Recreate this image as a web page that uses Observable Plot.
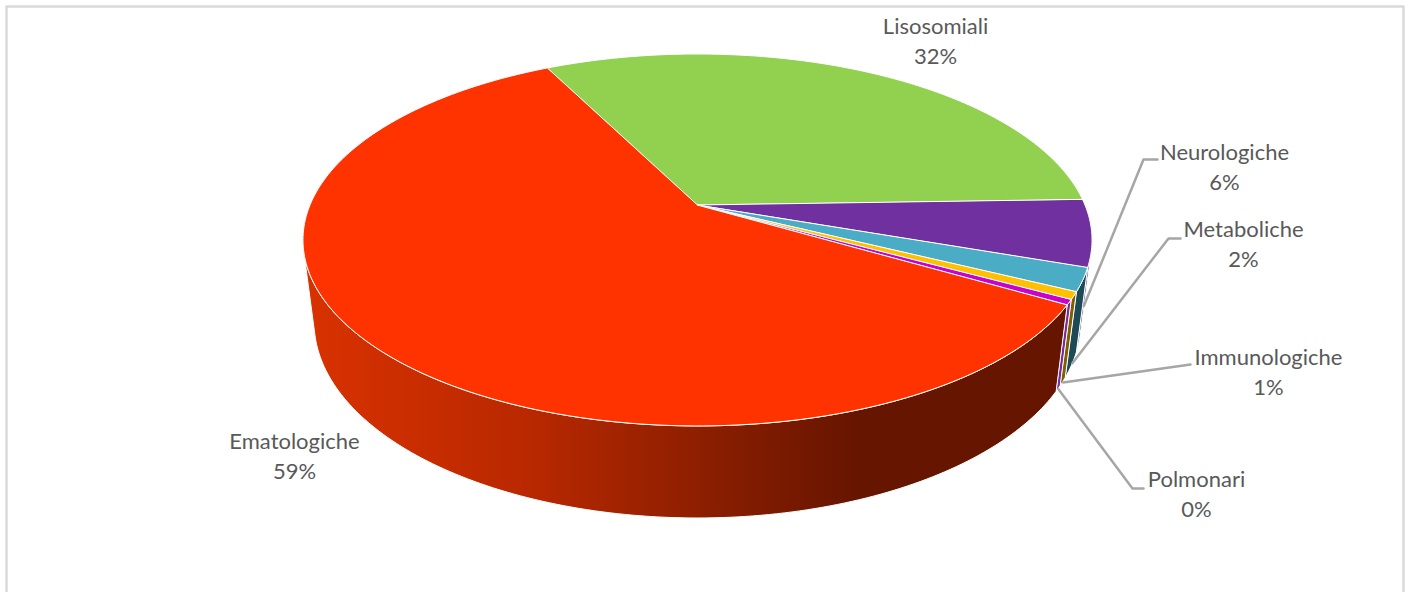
<!DOCTYPE html>
<html>
<head>
<meta charset="utf-8">
<script src="https://cdn.jsdelivr.net/npm/d3@7"></script>
<script src="https://cdn.jsdelivr.net/npm/@observablehq/plot@0.6"></script>
<style>
  html, body { margin: 0; padding: 0; background: #fff; overflow: hidden; }
  svg { display: block; }
</style>
</head>
<body>
<div id="chart"></div>
<script>
// Share of each disease group, in percent, clockwise from the first slice
const categories = ["Lisosomiali", "Neurologiche", "Metaboliche", "Immunologiche", "Polmonari", "Ematologiche"];
const shares = [32.0, 5.8, 2.0, 0.65, 0.45, 59.1];
const printed = [32, 6, 2, 1, 0, 59];
const topColors = ["#92d050", "#7030a0", "#4bacc6", "#ffc000", "#cc00cc", "#ff3300"];
const sideColors = ["#3a5320", "#4a2070", "#1e4a58", "#7f6000", "#7a2a9a", "url(#redWall)"];

// Where each caption sits, and the elbow of its leader line
const captionX = [935, 1224, 1243, 1268, 1196, 294];
const captionY = [39, 165, 242, 370, 492, 454];
const elbowA = [null, [1143, 159], [1168, 238], [1183, 365], [1132, 488], null];
const elbowB = [null, [1157, 159], [1180, 238], [1190, 364], [1143, 488], null];
const leaderDepth = [null, 0.5, 0.97, 1, 1, null];

// Shading of the long wall, running left to right
const wallStops = [[0, "#d93200"], [0.3, "#b82800"], [0.51, "#8f1f00"], [0.727, "#661500"], [1, "#661500"]];

// Perspective view of a disc with a wall below it
const view = {cx: 697.5, cy: 205, B: 387.5, A: 179.4, C: -83.5, k: 0.188, m: 0.028, startDeg: -26.9};
function project(deg, depth) {
  const t = deg * Math.PI / 180, u = Math.sin(t), v = Math.cos(t);
  const w = 1 + view.k * v + view.m * depth;
  return [view.cx + view.B * u / w, view.cy - (view.A * v + view.C * depth) / w];
}
const centre = [view.cx, view.cy];

// Angular extent of the slices, from the shares
const total = d3.sum(shares);
let running = view.startDeg;
const slices = categories.map((name, i) => {
  const from = running;
  running += shares[i] / total * 360;
  return {name, i, from, to: running, mid: (from + running) / 2};
});

function steps(a, b) {
  const n = Math.max(2, Math.ceil(Math.abs(b - a)));
  return d3.range(n + 1).map(j => a + (b - a) * j / n);
}

// Top face: each slice is a fan from the centre to its arc
const topRows = slices.flatMap(s => steps(s.from, s.to).map(deg => {
  const [x, y] = project(deg, 0);
  return {x1: centre[0], y1: centre[1], x2: x, y2: y, name: s.name, fill: topColors[s.i]};
}));

// Walls: only the part of the rim turned toward the viewer
const rimFrom = 104.3, rimTo = 255.7;
const wallRows = slices.flatMap(s => {
  let a = s.from, b = s.to;
  if (b < 0) { a += 360; b += 360; }
  a = Math.max(a, rimFrom); b = Math.min(b, rimTo);
  if (a >= b) return [];
  return steps(a, b).map(deg => {
    const [x1, y1] = project(deg, 0), [x2, y2] = project(deg, 1);
    return {x1, y1, x2, y2, name: s.name, fill: sideColors[s.i]};
  });
});

// Leader lines run from a slice's wall out to its caption
const leaderRows = slices.flatMap(s => {
  if (!elbowA[s.i]) return [];
  const deg = s.i === 1 ? s.to - 1.5 : s.mid;
  const [x, y] = project(deg, leaderDepth[s.i]);
  return [[x, y], elbowA[s.i], elbowB[s.i]].map(([px, py]) => ({x: px, y: py, name: s.name}));
});

const captions = slices.map(s => ({
  x: captionX[s.i], y: captionY[s.i], text: `${s.name}\n${printed[s.i]}%`
}));

// Card outline: open along the bottom edge
const cardRows = [[6, 592], [6, 6], [1403, 6], [1403, 592]].map(([x, y]) => ({x, y}));

function wallGradient() {
  const defs = d3.create("svg:defs");
  const g = defs.append("linearGradient").attr("id", "redWall")
    .attr("x1", 0).attr("x2", 1).attr("y1", 0).attr("y2", 0);
  wallStops.forEach(([o, c]) => g.append("stop").attr("offset", o).attr("stop-color", c));
  return defs.node();
}

const chart = Plot.plot({
  width: 1410,
  height: 592,
  margin: 0,
  x: {domain: [0, 1410], range: [0, 1410], axis: null},
  y: {domain: [0, 592], range: [0, 592], axis: null},
  color: {type: "identity"},
  style: {background: "#fff", fontFamily: "Lato, sans-serif"},
  marks: [
    wallGradient,
    Plot.line(cardRows, {x: "x", y: "y", stroke: "#d9d9d9", strokeWidth: 2.4, curve: "linear"}),
    Plot.area(wallRows, {x1: "x1", y1: "y1", x2: "x2", y2: "y2", z: "name", fill: "fill", stroke: "#fff", strokeWidth: 1}),
    Plot.area(topRows, {x1: "x1", y1: "y1", x2: "x2", y2: "y2", z: "name", fill: "fill", stroke: "#fff", strokeWidth: 1}),
    Plot.line(leaderRows, {x: "x", y: "y", z: "name", stroke: "#a6a6a6", strokeWidth: 2.5, curve: "linear"}),
    Plot.text(captions, {x: "x", y: "y", text: "text", fill: "#595959", fontSize: 22, lineHeight: 1.36, textAnchor: "middle", lineAnchor: "middle"})
  ]
});
document.getElementById("chart").append(chart);
</script>
</body>
</html>
